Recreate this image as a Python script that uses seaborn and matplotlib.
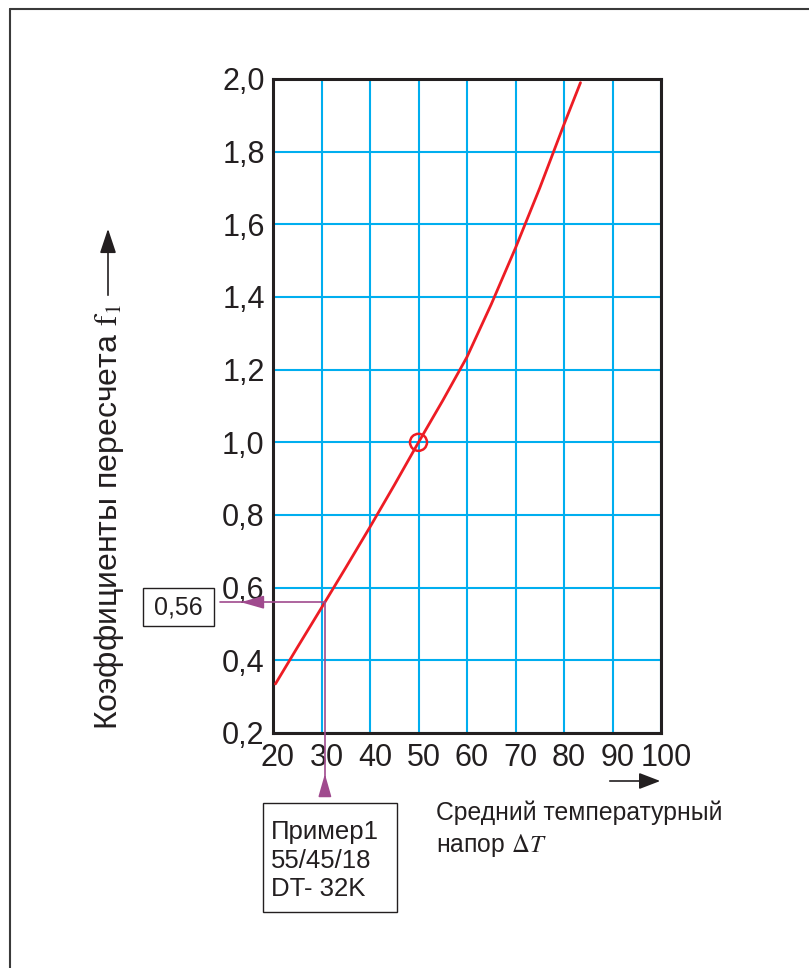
import numpy as np
import pandas as pd
import matplotlib
matplotlib.use("Agg")
import matplotlib.pyplot as plt
import matplotlib.transforms as mtransforms
import seaborn as sns
from matplotlib.lines import Line2D
from matplotlib.patches import Rectangle

# ---- data ----
delta_t = [20.5, 25.0, 30.7, 35.0, 40.0, 45.0, 50.0, 55.0, 60.0, 65.0, 70.0, 75.0, 80.0, 83.4]
factor_f1 = [0.335, 0.435, 0.56, 0.655, 0.767, 0.882, 1.00, 1.115, 1.235, 1.38, 1.535, 1.70, 1.875, 1.99]
ref_point = (50, 1.0)
example_dt = 30.7
example_f = 0.56
x_ticks = [20, 30, 40, 50, 60, 70, 80, 90, 100]
y_ticks = [0.2, 0.4, 0.6, 0.8, 1.0, 1.2, 1.4, 1.6, 1.8, 2.0]
y_tick_labels = ["0,2", "0,4", "0,6", "0,8", "1,0", "1,2", "1,4", "1,6", "1,8", "2,0"]
example_lines = ["Пример1", "55/45/18", "DT- 32K"]

sns.set_style("white")
plt.rcParams['font.family'] = ['Liberation Sans', 'DejaVu Sans']
plt.rcParams['mathtext.fontset'] = 'stix'

W, H = 809, 968
fig = plt.figure(figsize=(W / 100, H / 100), dpi=100)
fig.patch.set_facecolor('white')

def fx(px):
    return px / W

def fy(py):
    return 1 - py / H

ax = fig.add_axes([fx(273), fy(733), fx(661) - fx(273), fy(79) - fy(733)])

grid_blue = '#00AEEF'
red = '#ED1C24'
purple = '#A04A8E'
dark = '#231F20'

curve = pd.DataFrame({'dt': delta_t, 'f1': factor_f1})
sns.lineplot(data=curve, x='dt', y='f1', color=red, lw=2.0, ax=ax,
             estimator=None, sort=False, zorder=4)
sns.scatterplot(x=[ref_point[0]], y=[ref_point[1]], ax=ax, s=150,
                facecolors='none', edgecolor=red, linewidth=1.8, zorder=5)

ax.set_xlim(20, 100)
ax.set_ylim(0.2, 2.0)
ax.set_xticks(x_ticks)
ax.set_yticks(y_ticks)
ax.set_xticklabels([str(v) for v in x_ticks])
ax.set_yticklabels(y_tick_labels)
ax.tick_params(length=0, labelsize=22, colors=dark, pad=6)
ax.tick_params(axis='x', pad=7)
# x tick labels sit a little to the right in the original
shift = mtransforms.ScaledTranslation(5 / 100, 0, fig.dpi_scale_trans)
for lbl in ax.get_xticklabels():
    lbl.set_transform(lbl.get_transform() + shift)
ax.grid(True, color=grid_blue, lw=1.5)
ax.set_axisbelow(True)
ax.set_xlabel('')
ax.set_ylabel('')
for s in ax.spines.values():
    s.set_visible(True)
    s.set_color(dark)
    s.set_linewidth(2.2)

# example guide lines (purple)
ax.plot([9.1, example_dt], [example_f, example_f], color=purple, lw=1.2,
        clip_on=False, zorder=6)
ax.plot([example_dt, example_dt], [0.043, example_f], color=purple, lw=1.2,
        clip_on=False, zorder=6)
ax.annotate('', xy=(12.8, example_f), xytext=(17.0, example_f),
            arrowprops=dict(arrowstyle='-|>,head_length=14,head_width=4',
                            mutation_scale=1, color=purple, lw=1.2),
            annotation_clip=False)
ax.annotate('', xy=(example_dt, 0.095), xytext=(example_dt, 0.045),
            arrowprops=dict(arrowstyle='-|>,head_length=14,head_width=4',
                            mutation_scale=1, color=purple, lw=1.2),
            annotation_clip=False)

# value box 0,56
fig.patches.append(Rectangle((fx(143), fy(626)), fx(214) - fx(143), fy(588) - fy(626),
                             transform=fig.transFigure, fill=False,
                             edgecolor=dark, lw=1.0))
fig.text(fx(178.5), fy(607), '0,56', fontsize=18, ha='center', va='center', color=dark)

# example box
fig.patches.append(Rectangle((fx(263), fy(912)), fx(397) - fx(263), fy(803) - fy(912),
                             transform=fig.transFigure, fill=False,
                             edgecolor=dark, lw=1.0))
for i, line in enumerate(example_lines):
    fig.text(fx(271), fy(839 + i * 28.5), line, fontsize=18.5, ha='left',
             va='baseline', color=dark)

# x axis label + arrow
fig.text(fx(436), fy(820), 'Средний температурный', fontsize=17.8, ha='left',
         va='baseline', color=dark)
fig.text(fx(436), fy(852), 'напор $\\mathit{\\Delta T}$', fontsize=17.8, ha='left',
         va='baseline', color=dark)
ax.annotate('', xy=(fx(663), fy(781)), xytext=(fx(607), fy(781)),
            xycoords='figure fraction', textcoords='figure fraction',
            arrowprops=dict(arrowstyle='-|>,head_length=13,head_width=5',
                            mutation_scale=1, color=dark, lw=1.2))

# y axis label + arrow
fig.text(fx(109), fy(730), 'Коэффициенты пересчета $\\mathrm{f}_1$', fontsize=23,
         rotation=90, ha='center', va='bottom', color=dark)
ax.annotate('', xy=(fx(108), fy(226)), xytext=(fx(108), fy(298)),
            xycoords='figure fraction', textcoords='figure fraction',
            arrowprops=dict(arrowstyle='-|>,head_length=15,head_width=5',
                            mutation_scale=1, color=dark, lw=1.2))

# outer frame (left and top edges visible)
fig.add_artist(Line2D([fx(10), fx(10)], [fy(9), 0], transform=fig.transFigure,
                      color='#3a3a3a', lw=1.5))
fig.add_artist(Line2D([fx(10), 1], [fy(9), fy(9)], transform=fig.transFigure,
                      color='#3a3a3a', lw=1.5))

fig.savefig('out.png', dpi=100, facecolor='white')
